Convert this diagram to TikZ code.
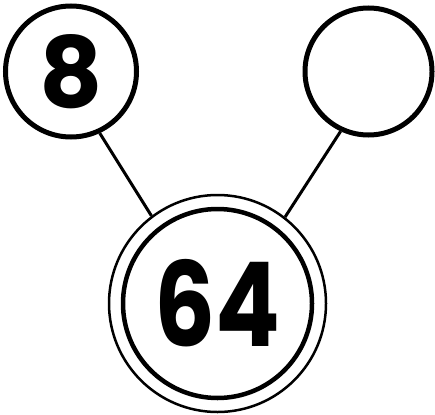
\documentclass[tikz,border=0pt]{standalone}
\usepackage{fontspec}
\newfontfamily\digitfont{Poppins}[UprightFont=* Bold]
\begin{document}
\begin{tikzpicture}[x=1pt,y=-1pt,
  ring/.style={circle,draw=black,inner sep=0pt},
  link/.style={draw=black,line width=3pt}]
\useasboundingbox (0,0) rectangle (435,414);
\node[ring,line width=5pt,minimum size=131pt] (a) at (71,71.5)
  {\digitfont\fontsize{98}{98}\selectfont 8};
\node[ring,line width=5pt,minimum size=127pt] (b) at (368.5,71.5) {};
\node[ring,line width=2.5pt,minimum size=217pt] (co) at (217.5,303.5) {};
\node[ring,line width=4.5pt,minimum size=189pt] (c) at (217.5,303.5)
  {\scalebox{0.82}[1]{\digitfont\fontsize{117}{117}\selectfont 64}};
\draw[link] (a.-65) -- (co.127);
\draw[link] (b.-115) -- (co.52);
\end{tikzpicture}
\end{document}
